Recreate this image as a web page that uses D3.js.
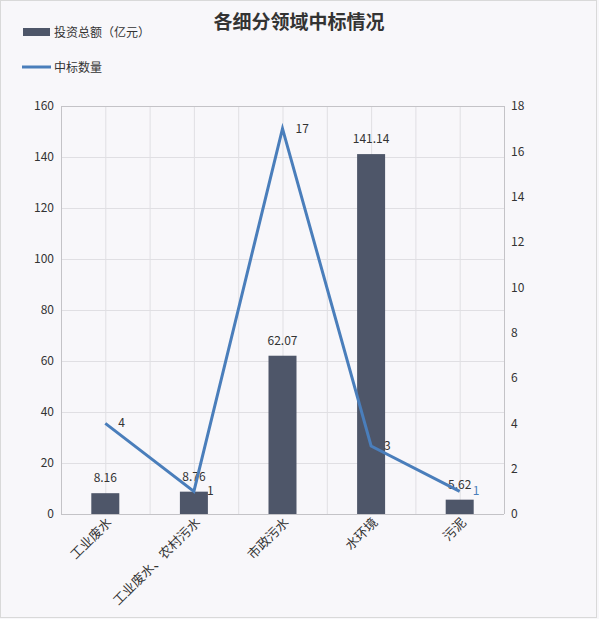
<!DOCTYPE html>
<html>
<head>
<meta charset="utf-8">
<script src="https://cdn.jsdelivr.net/npm/d3@7"></script>
<style>
  body { margin: 0; background: #f8f7fa; }
  text { font-family: "Noto Sans CJK SC", "Noto Sans", sans-serif; }
</style>
</head>
<body>
<script>
var categories = ['工业废水', '工业废水、农村污水', '市政污水', '水环境', '污泥'];
var investment = [8.16, 8.76, 62.07, 141.14, 5.62];
var bidCount = [4, 1, 17, 3, 1];
var leftTicks = [0, 20, 40, 60, 80, 100, 120, 140, 160];
var rightTicks = [0, 2, 4, 6, 8, 10, 12, 14, 16, 18];

var width = 599, height = 619;
var margin = {left: 61, right: 95, top: 106, bottom: 105};
var innerW = width - margin.left - margin.right;
var innerH = height - margin.top - margin.bottom;

var barColor = '#4e5669';
var lineColor = '#4a7ebb';

var svg = d3.select('body').append('svg')
    .attr('width', width)
    .attr('height', height);

svg.append('rect')
    .attr('x', 0.5).attr('y', 0.5)
    .attr('width', width - 3).attr('height', height - 2)
    .attr('fill', '#f8f7fa')
    .attr('stroke', '#d9d9d9');

// title
svg.append('text')
    .attr('x', 299).attr('y', 29)
    .attr('text-anchor', 'middle')
    .attr('font-size', 19).attr('font-weight', 'bold')
    .attr('fill', '#333')
    .text('各细分领域中标情况');

// legend
svg.append('rect').attr('x', 23).attr('y', 28).attr('width', 27).attr('height', 8).attr('fill', barColor);
svg.append('text').attr('x', 54).attr('y', 37).attr('font-size', 12).attr('fill', '#333').text('投资总额（亿元）');
svg.append('line').attr('x1', 22).attr('x2', 51).attr('y1', 67).attr('y2', 67)
    .attr('stroke', lineColor).attr('stroke-width', 3);
svg.append('text').attr('x', 54).attr('y', 72).attr('font-size', 12).attr('fill', '#333').text('中标数量');

var x = d3.scaleBand().domain(categories).range([0, innerW]);
var y = d3.scaleLinear().domain([0, 160]).range([innerH, 0]);
var y2 = d3.scaleLinear().domain([0, 18]).range([innerH, 0]);

var g = svg.append('g').attr('transform', 'translate(' + margin.left + ',' + margin.top + ')');

// vertical grid at band edges and centers
var vLines = [];
categories.forEach(function(c) {
  vLines.push(x(c));
  vLines.push(x(c) + x.bandwidth() / 2);
});
g.selectAll('.vgrid').data(vLines).enter().append('line')
    .attr('x1', function(d) { return d + 0.5; })
    .attr('x2', function(d) { return d + 0.5; })
    .attr('y1', 0).attr('y2', innerH)
    .attr('stroke', '#e0dfe3');

g.selectAll('.hgrid').data(leftTicks).enter().append('line')
    .attr('x1', 0).attr('x2', innerW)
    .attr('y1', function(d) { return Math.round(y(d)) + 0.5; })
    .attr('y2', function(d) { return Math.round(y(d)) + 0.5; })
    .attr('stroke', '#e0dfe3');

// frame lines
g.append('line').attr('x1', 0).attr('x2', innerW).attr('y1', 0.5).attr('y2', 0.5).attr('stroke', '#c4c3c7');
g.append('line').attr('x1', 0).attr('x2', innerW).attr('y1', innerH + 0.5).attr('y2', innerH + 0.5).attr('stroke', '#c4c3c7');
g.append('line').attr('x1', 0.5).attr('x2', 0.5).attr('y1', 0).attr('y2', innerH).attr('stroke', '#c4c3c7');
g.append('line').attr('x1', innerW + 0.5).attr('x2', innerW + 0.5).attr('y1', 0).attr('y2', innerH).attr('stroke', '#c4c3c7');

// axes
var yAxis = d3.axisLeft(y).tickValues(leftTicks).tickSize(0).tickPadding(7);
var yAxis2 = d3.axisRight(y2).tickValues(rightTicks).tickSize(0).tickPadding(7);
var xAxis = d3.axisBottom(x).tickSize(0).tickPadding(6);

var ly = g.append('g').call(yAxis);
var ry = g.append('g').attr('transform', 'translate(' + innerW + ',0)').call(yAxis2);
var bx = g.append('g').attr('transform', 'translate(0,' + innerH + ')').call(xAxis);
[ly, ry, bx].forEach(function(a) {
  a.select('.domain').remove();
  a.selectAll('text').attr('font-size', 12).attr('fill', '#333')
      .attr('font-family', '"Noto Sans CJK SC", sans-serif');
});
bx.selectAll('text')
    .attr('font-size', 13)
    .attr('text-anchor', 'end')
    .attr('dy', null)
    .attr('transform', 'translate(3,5) rotate(-45)');

// bars
var barW = 28;
g.selectAll('.bar').data(investment).enter().append('rect')
    .attr('x', function(d, i) { return x(categories[i]) + x.bandwidth() / 2 - barW / 2; })
    .attr('y', function(d) { return y(d); })
    .attr('width', barW)
    .attr('height', function(d) { return innerH - y(d); })
    .attr('fill', barColor);

g.selectAll('.barlabel').data(investment).enter().append('text')
    .attr('x', function(d, i) { return x(categories[i]) + x.bandwidth() / 2; })
    .attr('y', function(d) { return y(d) - 11; })
    .attr('text-anchor', 'middle')
    .attr('font-size', 12).attr('fill', '#333')
    .text(function(d) { return d; });

// line
var line = d3.line()
    .x(function(d, i) { return x(categories[i]) + x.bandwidth() / 2; })
    .y(function(d) { return y2(d); });

g.append('path')
    .attr('d', line(bidCount))
    .attr('fill', 'none')
    .attr('stroke', lineColor)
    .attr('stroke-width', 3);

g.selectAll('.linelabel').data(bidCount).enter().append('text')
    .attr('x', function(d, i) { return x(categories[i]) + x.bandwidth() / 2 + 13; })
    .attr('y', function(d) { return y2(d) + 4; })
    .attr('font-size', 12)
    .attr('fill', function(d, i) { return i === 4 ? lineColor : '#333'; })
    .text(function(d) { return d; });
</script>
</body>
</html>
